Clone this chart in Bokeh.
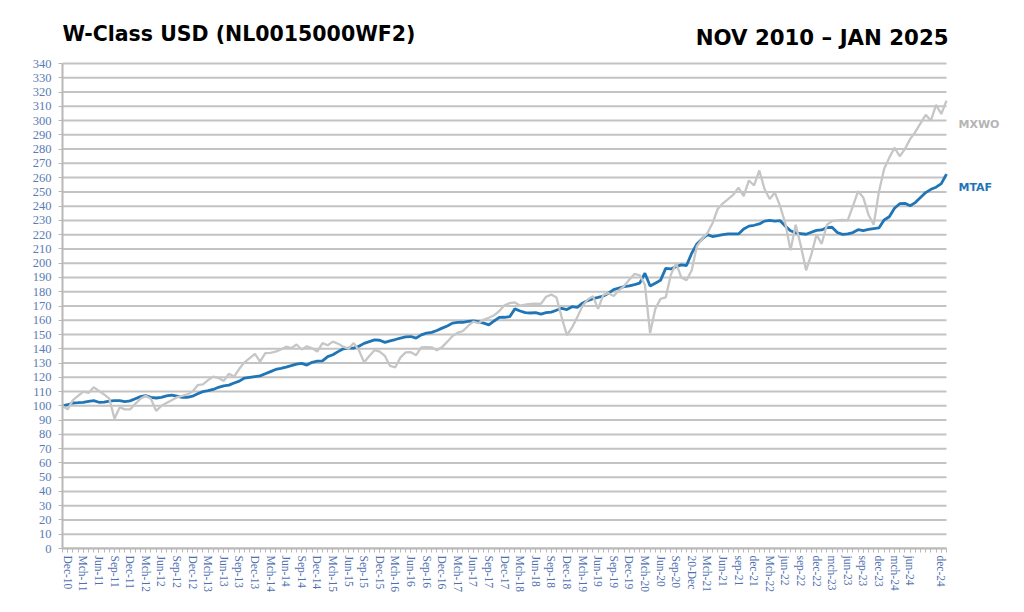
from bokeh.plotting import figure
from bokeh.models import Range1d, FixedTicker, Label, ColumnDataSource
from bokeh.embed import file_html
from bokeh.resources import INLINE
import math

# ---- DATA ----
# month index 0 = Nov-2010 ... 170 = Jan-2025
mtaf = [100, 100.8, 102, 102.2, 102.5, 103.2, 103.7, 102.5, 102.6, 103.3, 103.7, 103.7,
        103, 103.5, 105, 106.5, 107.2, 106, 105.5, 106, 107, 107.5, 106.8, 106,
        106, 106.8, 108.5, 110, 110.6, 111.5, 113, 114, 114.5, 116, 117.3, 119.5,
        120, 120.5, 121, 122.5, 124, 125.5, 126.3, 127.2, 128.2, 129.3, 129.8, 128.6,
        130.5, 131.3, 131.5, 134.5, 135.8, 138, 140, 140.5, 140.5, 141.8, 143.8, 145,
        146.2, 146, 144.5, 145.6, 146.5, 147.5, 148.3, 148.6, 147.5, 149.8, 151, 151.5,
        152.8, 154.5, 156, 158, 158.5, 158.6, 159.2, 159.5, 159, 158, 156.8, 159.5,
        162, 162.1, 162.5, 168, 166.5, 165.3, 165.1, 165.4, 164.3, 165.3, 165.7, 167,
        168.4, 167.5, 169.5, 169, 172, 173.8, 175.2, 176, 177, 179, 181.5, 182.6,
        183.6, 184.1, 185, 186, 193, 184, 186, 188, 196.4, 196, 197.6, 198.8,
        198.4, 207, 213.5, 217, 220, 218.7, 219.3, 220, 220.5, 220.5, 220.5, 224,
        226, 226.6, 227.5, 229.5, 230, 229.5, 229.8, 226, 222.8, 221.3, 220.8, 220.3,
        221.7, 223, 223.3, 225, 225.2, 221.5, 220.2, 220.6, 221.5, 223.5, 222.8, 223.7,
        224.3, 224.7, 230.3, 232.6, 238.5, 241.7, 242, 240.3, 242.5, 246, 249.5, 251.8,
        253.3, 255.8, 262.5]

mxwo = [100, 97.5, 104, 107, 110, 109, 113, 110.5, 108, 105, 91, 99,
        97.5, 97.5, 101.5, 105, 107, 105, 96.5, 100, 102, 104, 106, 107,
        108, 110, 114.5, 115, 118, 120.5, 119.5, 117.5, 122.5, 120.5, 126, 130.5,
        133.5, 136.5, 131, 137, 137.2, 138, 139.5, 141.5, 140.5, 143, 139.5, 141.8,
        140.4, 138, 144, 142.5, 145, 143.5, 141.5, 140, 144, 139, 130.5, 135,
        139, 138, 135, 128, 127, 134, 137.5, 137.6, 135.5, 141, 141.2, 141,
        139, 141.2, 145, 149, 151.2, 152.5, 156, 159, 158, 160.4, 161.7, 163.5,
        166.5, 170.5, 172, 172.5, 170.2, 171, 171.5, 171.6, 171.5, 176.5, 178, 176,
        162, 149.5, 155, 162.2, 170, 174.5, 176.8, 168, 177.8, 179, 177, 181,
        184, 188.5, 192.5, 191.5, 185, 151, 168, 175, 176, 192, 200, 190,
        188, 195, 212, 217, 221, 228, 238, 242, 245, 248, 253, 247,
        258, 254.5, 265, 252, 245, 249.5, 240, 228, 209, 227, 212, 195,
        206, 220, 213.6, 227, 229.5, 230, 230.3, 230, 240, 250.5, 246, 234,
        227, 250, 266, 274, 281, 275, 280, 287, 292, 298, 304, 300,
        311, 304.6, 314]

tick_labels = ["Dec-10", "Mch-11", "Jun-11", "Sep-11", "Dec-11", "Mch-12", "Jun-12", "Sep-12",
               "Dec-12", "Mch-13", "Jun-13", "Sep-13", "Dec-13", "Mch-14", "Jun-14", "Sep-14",
               "Dec-14", "Mch-15", "Jun-15", "Sep-15", "Dec-15", "Mch-16", "Jun-16", "Sep-16",
               "Dec-16", "Mch-17", "Jun-17", "Sep-17", "Dec-17", "Mch-18", "Jun-18", "Sep-18",
               "Dec-18", "Mch-19", "Jun-19", "Sep-19", "Dec-19", "Mch-20", "Jun-20", "Sep-20",
               "20-Dec", "Mch-21", "Jun-21", "sep-21", "dec-21", "Mch-22", "jun-22", "sep-22",
               "dec-22", "mch-23", "jun-23", "sep-23", "dec-23", "mch-24", "jun-24", "dec-24"]
# month index of each label (Dec-10 = 1, quarterly; Sep-24 label absent)
tick_months = [1 + 3 * k for k in range(55)] + [169]

y_ticks = list(range(0, 341, 10))

title_left = "W-Class USD (NL0015000WF2)"
title_right = "NOV 2010 \u2013 JAN 2025"
series_names = ["MXWO", "MTAF"]

# ---- CHART ----
n = len(mtaf)
x_last = n - 1
y_top = y_ticks[-1]
# frame spans to the right and top canvas edges so that texts can live inside it
x_end = 962 * x_last / 884.0
y_end = 548 * y_top / 485.0

src = ColumnDataSource(dict(x=list(range(n)), mtaf=mtaf, mxwo=mxwo))
grid_src = ColumnDataSource(dict(x0=[0] * len(y_ticks), x1=[x_last] * len(y_ticks), y=y_ticks))

p = figure(width=1024, height=612, x_range=Range1d(0, x_end), y_range=Range1d(0, y_end),
           output_backend="svg", toolbar_location=None,
           min_border_left=62, min_border_right=0, min_border_top=0, min_border_bottom=64)
p.outline_line_color = None
p.background_fill_color = "white"
p.border_fill_color = "white"

p.xgrid.visible = False
p.ygrid.visible = False
p.segment(x0="x0", y0="y", x1="x1", y1="y", source=grid_src, line_color="#c3c3c3", line_width=2)

p.yaxis.ticker = FixedTicker(ticks=y_ticks)
p.yaxis.bounds = (0, y_top)
p.yaxis.axis_line_color = "#b8b8b8"
p.yaxis.axis_line_width = 2
p.yaxis.major_tick_line_color = "#b8b8b8"
p.yaxis.major_tick_in = 0
p.yaxis.major_tick_out = 4
p.yaxis.minor_tick_line_color = None
p.yaxis.major_label_text_font = "Liberation Serif"
p.yaxis.major_label_text_font_size = "12.5px"
p.yaxis.major_label_text_color = "#5b7bb5"
p.yaxis.major_label_standoff = 7

p.xaxis.ticker = FixedTicker(ticks=tick_months, minor_ticks=list(range(n)))
p.xaxis.bounds = (0, x_last)
p.xaxis.major_label_overrides = {m: t for m, t in zip(tick_months, tick_labels)}
p.xaxis.major_label_orientation = -math.pi / 2
p.xaxis.axis_line_color = "#b8b8b8"
p.xaxis.axis_line_width = 2
p.xaxis.major_tick_line_color = "#b8b8b8"
p.xaxis.minor_tick_line_color = "#b8b8b8"
p.xaxis.major_tick_in = 0
p.xaxis.major_tick_out = 4
p.xaxis.minor_tick_in = 0
p.xaxis.minor_tick_out = 4
p.xaxis.major_label_text_font = "Liberation Serif"
p.xaxis.major_label_text_font_size = "11.5px"
p.xaxis.major_label_text_color = "#4f6fb0"
p.xaxis.major_label_standoff = 3

p.line("x", "mtaf", source=src, line_color="#1f75b5", line_width=2.8)
p.line("x", "mxwo", source=src, line_color="#c6c6c6", line_width=2.3)

p.add_layout(Label(x=0, y=361, text=title_left, text_font="DejaVu Sans",
                   text_font_style="bold", text_font_size="20.5px", text_baseline="middle",
                   text_color="black"))
p.add_layout(Label(x=170.4, y=358, text=title_right, text_font="DejaVu Sans",
                   text_font_style="bold", text_font_size="21.3px", text_baseline="middle",
                   text_align="right", text_color="black"))
p.add_layout(Label(x=172.3, y=297, text=series_names[0], text_font="DejaVu Sans",
                   text_font_style="bold", text_font_size="11px", text_baseline="middle",
                   text_color="#b5b5b5"))
p.add_layout(Label(x=172.3, y=253, text=series_names[1], text_font="DejaVu Sans",
                   text_font_style="bold", text_font_size="11px", text_baseline="middle",
                   text_color="#1f75b5"))

open("out.html", "w").write(file_html(p, INLINE))
